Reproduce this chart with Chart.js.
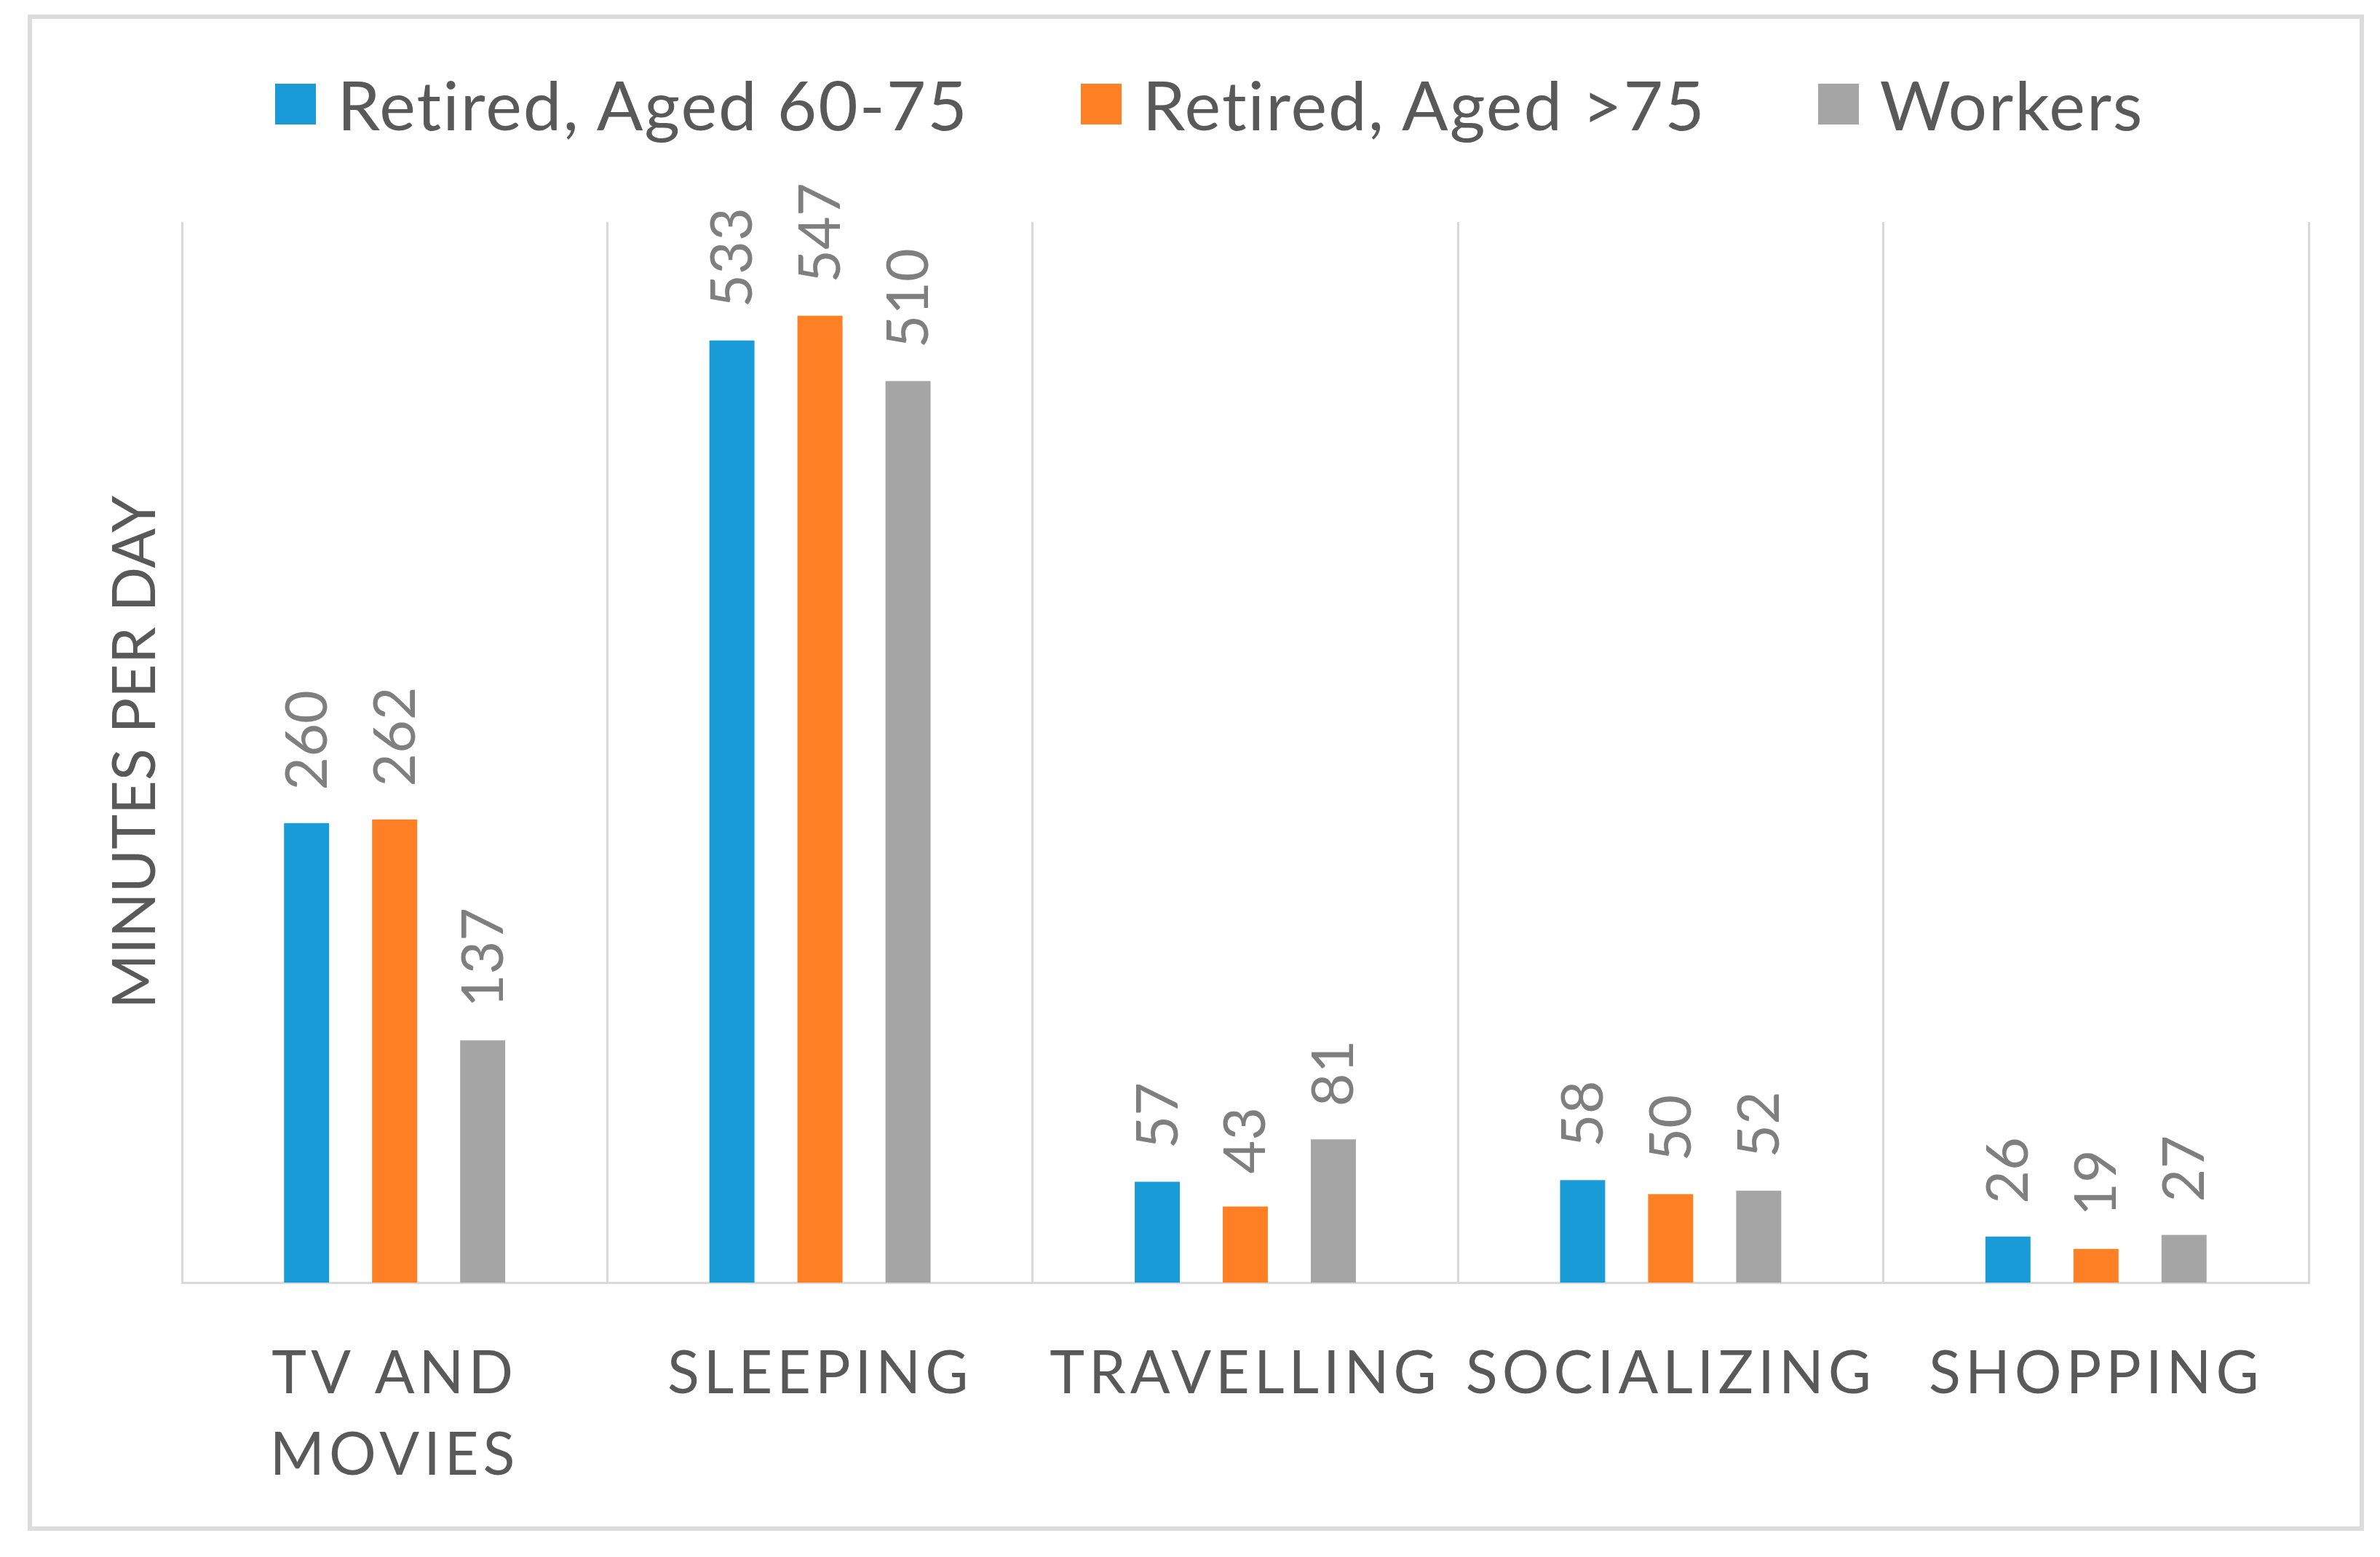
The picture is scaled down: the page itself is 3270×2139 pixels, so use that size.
<!DOCTYPE html>
<html>
<head>
<meta charset="utf-8">
<script src="https://cdn.jsdelivr.net/npm/chart.js@4.4.1/dist/chart.umd.min.js"></script>
<style>
    body { margin: 0; background: #fff; }
    #frame {
        position: absolute; left: 38px; top: 20px;
        width: 3198px; height: 2071px;
        border: 6px solid #dcdcdc; background: #fff;
    }
    #legend {
        position: absolute; left: 0; right: 0; top: 60px; padding-left: 38px;
        display: flex; justify-content: center; align-items: center;
        font-family: Lato, sans-serif; font-size: 94px; letter-spacing: 2px; color: #595959;
    }
    .item { display: flex; align-items: center; margin: 0 77px; }
    .box { width: 56px; height: 56px; margin-right: 29px; }
</style>
</head>
<body>
<div id="frame">
    <canvas id="chart"></canvas>
    <div id="legend"></div>
</div>
<script>
const categories = [['TV AND', 'MOVIES'], 'SLEEPING', 'TRAVELLING', 'SOCIALIZING', 'SHOPPING'];
const seriesNames = ['Retired, Aged 60-75', 'Retired, Aged >75', 'Workers'];
const retired6075 = [260, 533, 57, 58, 26];
const retired75 = [262, 547, 43, 50, 19];
const workers = [137, 510, 81, 52, 27];
const colors = ['#199bd7', '#fe7f24', '#a5a5a5'];

const textGrey = '#595959';
const gridGrey = '#d9d9d9';

// value labels, rotated, sitting above each bar
const barLabels = {
    id: 'barLabels',
    afterDatasetsDraw(chart) {
        const ctx = chart.ctx;
        ctx.save();
        ctx.font = '79px Lato';
        ctx.fillStyle = '#7f7f7f';
        ctx.textAlign = 'left';
        ctx.textBaseline = 'middle';
        chart.data.datasets.forEach((ds, i) => {
            chart.getDatasetMeta(i).data.forEach((bar, j) => {
                ctx.save();
                ctx.translate(bar.x + 2, bar.y - 45);
                ctx.rotate(-Math.PI / 2);
                ctx.fillText(String(ds.data[j]), 0, 0);
                ctx.restore();
            });
        });
        ctx.restore();
    }
};

// category labels are letter-spaced in the original
const spacedTicks = {
    id: 'spacedTicks',
    beforeDraw(chart) {
        const xs = chart.scales.x;
        if (xs._spaced) return;
        const orig = xs.drawLabels.bind(xs);
        xs.drawLabels = function (area) {
            const ctx = chart.ctx;
            ctx.save();
            ctx.letterSpacing = '6px';
            orig(area);
            ctx.restore();
        };
        xs._spaced = true;
    }
};

const chart = new Chart(document.getElementById('chart'), {
    type: 'bar',
    data: {
        labels: categories,
        datasets: [
            {label: seriesNames[0], data: retired6075, backgroundColor: colors[0]},
            {label: seriesNames[1], data: retired75, backgroundColor: colors[1]},
            {label: seriesNames[2], data: workers, backgroundColor: colors[2]}
        ]
    },
    options: {
        responsive: true,
        maintainAspectRatio: false,
        animation: false,
        events: [],
        categoryPercentage: 0.621,
        barPercentage: 0.512,
        layout: {padding: {top: 279, right: 70, left: 0, bottom: 0}},
        plugins: {
            legend: {display: false},
            tooltip: {enabled: false}
        },
        scales: {
            x: {
                grid: {color: gridGrey, lineWidth: 3, drawTicks: false},
                border: {color: gridGrey, width: 3},
                ticks: {
                    color: textGrey,
                    font: {family: 'Lato', size: 81, lineHeight: 1.38},
                    padding: 70,
                    maxRotation: 0,
                    autoSkip: false
                },
                afterFit: s => { s.height = 335; }
            },
            y: {
                min: 0,
                max: 600,
                grid: {display: false},
                border: {display: false},
                ticks: {display: false},
                title: {
                    display: true,
                    text: 'MINUTES PER DAY',
                    color: textGrey,
                    font: {family: 'Lato', size: 81},
                    padding: {top: 94, bottom: 0}
                },
                afterFit: s => { s.width = 206; }
            }
        }
    },
    plugins: [barLabels, spacedTicks]
});

// legend built from the same series arrays
const legend = document.getElementById('legend');
seriesNames.forEach((name, i) => {
    const item = document.createElement('div');
    item.className = 'item';
    item.innerHTML = `<span class="box" style="background:${colors[i]}"></span><span>${name}</span>`;
    legend.appendChild(item);
});
</script>
</body>
</html>
